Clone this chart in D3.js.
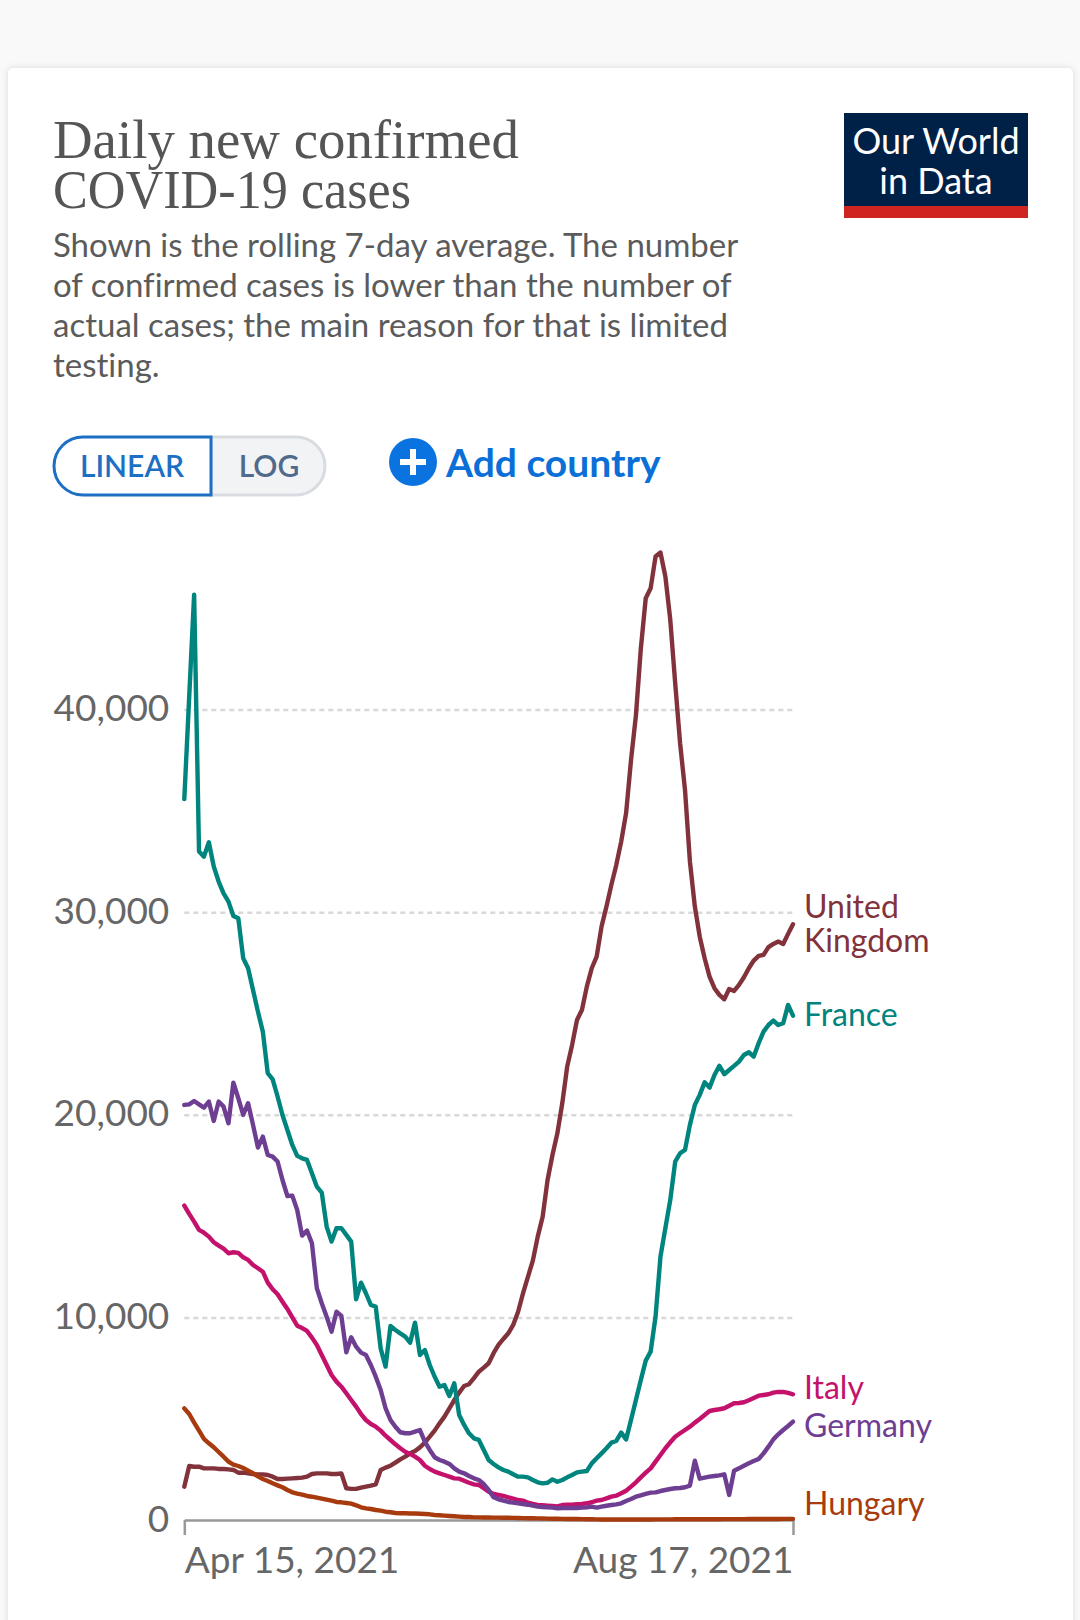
<!DOCTYPE html>
<html>
<head>
<meta charset="utf-8">
<script src="https://cdn.jsdelivr.net/npm/d3@7"></script>
<style>
  html, body { margin: 0; padding: 0; background: #f9f9f9; }
  svg { display: block; font-family: Lato, sans-serif; }
  .card { fill: #fff; filter: drop-shadow(0 0 3px rgba(0, 0, 0, 0.13)); }
  .title { font-family: "Liberation Serif", serif; font-size: 55px; fill: #555; }
  .subtitle { font-size: 33px; fill: #5b5b5b; font-variant-ligatures: none; }
  .tick text { font-family: Lato, sans-serif; font-size: 37px; fill: #666; }
  .grid .tick line { stroke: #d8d8d8; stroke-width: 2.5; stroke-dasharray: 5 4; }
  .x-axis path, .x-axis line { stroke: #999; stroke-width: 2.5; fill: none; }
  .series { fill: none; stroke-width: 4.4; stroke-linejoin: round; stroke-linecap: round; }
  .end-label { font-size: 32px; }
</style>
</head>
<body>
<svg width="1080" height="1620"></svg>
<script>
const startDate = new Date(Date.UTC(2021, 3, 15))
const endDate = new Date(Date.UTC(2021, 7, 17))

const yTicks = [0, 10000, 20000, 30000, 40000]

const unitedKingdom = [
  1645, 2665, 2630, 2630, 2550, 2550, 2550, 2520, 2520, 2500,
  2470, 2335, 2335, 2300, 2270, 2250, 2250, 2220, 2140, 2025,
  2025, 2040, 2055, 2075, 2090, 2140, 2270, 2300, 2300, 2300,
  2270, 2270, 2300, 1565, 1535, 1535, 1600, 1645, 1695, 1760,
  2470, 2585, 2680, 2830, 2995, 3125, 3290, 3405, 3585, 3815,
  4110, 4410, 4770, 5100, 5510, 5920, 6285, 6615, 6700, 7000,
  7320, 7520, 7735, 8230, 8640, 8935, 9215, 9625, 10280, 11190,
  12000, 12800, 13985, 14970, 16780, 18015, 19085, 20570, 22375, 23445,
  24680, 25170, 26325, 27230, 27800, 29290, 30275, 31345, 32330, 33480,
  34880, 37500, 39700, 43000, 45490, 45985, 47550, 47750, 46565, 44425,
  41300, 38335, 36030, 32500, 30280, 28790, 27725, 26820, 26245, 25915,
  25700, 26210, 26110, 26410, 26785, 27230, 27610, 27840, 27890, 28270,
  28430, 28545, 28430, 28925, 29400
]

const france = [
  35575, 40640, 45660, 32990, 32740, 33450, 32250, 31510, 30930, 30520,
  29810, 29700, 27725, 27230, 26160, 25090, 24100, 22050, 21750, 20900,
  19990, 19250, 18510, 17970, 17850, 17770, 17110, 16450, 16160, 14480,
  13740, 14400, 14400, 14070, 13740, 10890, 11710, 11190, 10610, 10530,
  8470, 7570, 9575, 9380, 9210, 9050, 8750, 9740, 8145, 8390,
  7650, 7070, 6580, 6660, 6120, 6750, 5180, 4690, 4280, 4030,
  3950, 3455, 2960, 2765, 2600, 2470, 2385, 2255, 2140, 2140,
  2105, 1975, 1860, 1810, 1840, 2005, 1890, 1975, 2105, 2220,
  2350, 2385, 2420, 2795, 3045, 3290, 3540, 3815, 3900, 4310,
  3980, 4935, 5920, 6910, 7865, 8310, 10035, 13000, 14400, 15795,
  17685, 18100, 18265, 19500, 20485, 20980, 21600, 21340, 21965, 22410,
  22000, 22210, 22410, 22620, 22950, 23085, 22870, 23530, 24100, 24430,
  24645, 24430, 24515, 25420, 24890
]

const italy = [
  15515, 15105, 14725, 14315, 14180, 13985, 13710, 13540, 13395, 13165,
  13215, 13180, 12965, 12835, 12585, 12425, 12255, 11715, 11385, 11140,
  10775, 10415, 10005, 9590, 9475, 9330, 9000, 8640, 8145, 7650,
  7155, 6830, 6580, 6255, 5925, 5595, 5230, 4935, 4740, 4605,
  4410, 4160, 3950, 3735, 3540, 3370, 3260, 3125, 2960, 2680,
  2515, 2385, 2305, 2220, 2140, 2055, 2040, 1940, 1840, 1760,
  1728, 1565, 1400, 1285, 1235, 1185, 1120, 1053, 987, 955,
  855, 790, 740, 725, 705, 690, 675, 740, 755, 755,
  775, 790, 825, 875, 955, 987, 1070, 1150, 1200, 1320,
  1447, 1645, 1860, 2105, 2335, 2550, 2880, 3210, 3540, 3835,
  4110, 4280, 4440, 4605, 4805, 4985, 5185, 5380, 5430, 5465,
  5515, 5640, 5760, 5775, 5810, 5910, 6020, 6135, 6170, 6205,
  6285, 6320, 6320, 6270, 6205
]

const germany = [
  20485, 20515, 20680, 20515, 20350, 20650, 19695, 20650, 20400, 19580,
  21585, 20815, 19990, 20570, 19500, 18380, 18920, 18015, 17935, 17690,
  16780, 15990, 16010, 15300, 14035, 14280, 13655, 11435, 10695, 10035,
  9295, 10280, 10070, 8280, 9020, 8555, 8260, 8145, 7650, 7075,
  6415, 5515, 4935, 4605, 4330, 4280, 4280, 4360, 4440, 3865,
  3455, 3095, 2960, 2880, 2765, 2550, 2385, 2305, 2170, 2055,
  1975, 1775, 1480, 1120, 1020, 955, 890, 855, 825, 790,
  755, 705, 660, 640, 625, 610, 575, 590, 590, 590,
  590, 610, 625, 660, 610, 660, 705, 740, 770, 825,
  940, 1035, 1150, 1220, 1285, 1350, 1365, 1430, 1480, 1530,
  1565, 1580, 1615, 1695, 2930, 2040, 2090, 2140, 2170, 2205,
  2255, 1235, 2435, 2550, 2680, 2800, 2910, 3010, 3290, 3620,
  3980, 4230, 4440, 4640, 4855
]

const hungary = [
  5510, 5230, 4805, 4410, 4000, 3785, 3590, 3355, 3125, 2880,
  2730, 2665, 2565, 2435, 2305, 2155, 2025, 1925, 1810, 1710,
  1615, 1480, 1365, 1300, 1250, 1185, 1150, 1100, 1053, 1003,
  955, 890, 873, 840, 805, 725, 625, 575, 543, 494,
  460, 410, 380, 345, 330, 330, 320, 320, 311, 296,
  281, 247, 232, 214, 197, 183, 165, 148, 148, 132,
  130, 125, 120, 118, 115, 113, 110, 105, 100, 95,
  90, 85, 80, 75, 70, 65, 60, 55, 52, 50,
  48, 45, 40, 35, 30, 28, 27, 26, 25, 25,
  25, 25, 26, 27, 28, 28, 30, 30, 32, 32,
  34, 34, 35, 35, 36, 36, 38, 38, 40, 40,
  42, 42, 44, 44, 45, 46, 48, 48, 50, 50,
  52, 52, 54, 55, 56
]

const seriesNames = ["United Kingdom", "France", "Italy", "Germany", "Hungary"]
const seriesValues = [unitedKingdom, france, italy, germany, hungary]

const colorScale = d3.scaleOrdinal()
  .domain(seriesNames)
  .range(["#82323b", "#00847e", "#c4126c", "#6d3e91", "#a83b0e"])

const titleLines = ["Daily new confirmed", "COVID-19 cases"]
const subtitleLines = [
  "Shown is the rolling 7-day average. The number",
  "of confirmed cases is lower than the number of",
  "actual cases; the main reason for that is limited",
  "testing."
]

const svg = d3.select("svg")

svg.append("rect")
  .attr("class", "card")
  .attr("x", 8)
  .attr("y", 68)
  .attr("width", 1065)
  .attr("height", 1600)
  .attr("rx", 5)

// header
const titleWidths = [466, 358]
svg.selectAll("text.title")
  .data(titleLines)
  .enter()
  .append("text")
  .attr("class", "title")
  .attr("x", 53)
  .attr("y", (d, i) => { return 158 + i * 50 })
  .attr("textLength", (d, i) => { return titleWidths[i] })
  .attr("lengthAdjust", "spacingAndGlyphs")
  .text(d => d)

svg.selectAll("text.subtitle")
  .data(subtitleLines)
  .enter()
  .append("text")
  .attr("class", "subtitle")
  .attr("x", 53)
  .attr("y", (d, i) => { return 257 + i * 40 })
  .text(d => d)

// logo
svg.append("rect").attr("x", 844).attr("y", 113).attr("width", 184).attr("height", 105).attr("fill", "#002147")
svg.append("rect").attr("x", 844).attr("y", 206).attr("width", 184).attr("height", 12).attr("fill", "#ce261e")
svg.selectAll("text.logo")
  .data(["Our World", "in Data"])
  .enter()
  .append("text")
  .attr("class", "logo")
  .attr("x", 936)
  .attr("y", (d, i) => { return 154 + i * 40 })
  .attr("text-anchor", "middle")
  .attr("font-size", 36)
  .attr("fill", "#fff")
  .text(d => d)

// linear / log toggle
svg.append("path")
  .attr("d", "M211,437 H296 a29,29 0 0 1 0,58 H211 Z")
  .attr("fill", "#f2f3f5")
  .attr("stroke", "#d8dbe0")
  .attr("stroke-width", 3)
svg.append("path")
  .attr("d", "M211,437 H83 a29,29 0 0 0 0,58 H211 Z")
  .attr("fill", "#fff")
  .attr("stroke", "#1d6fc4")
  .attr("stroke-width", 3)
svg.append("text")
  .attr("x", 132).attr("y", 477)
  .attr("text-anchor", "middle")
  .attr("font-size", 30).attr("font-weight", 600)
  .attr("fill", "#1d6fc4")
  .text("LINEAR")
svg.append("text")
  .attr("x", 269).attr("y", 477)
  .attr("text-anchor", "middle")
  .attr("font-size", 30).attr("font-weight", 600)
  .attr("fill", "#4f6a8c")
  .text("LOG")

// add country
svg.append("circle").attr("cx", 413).attr("cy", 462).attr("r", 24).attr("fill", "#0a73e0")
svg.append("path")
  .attr("d", "M413,449 V475 M400,462 H426")
  .attr("stroke", "#fff")
  .attr("stroke-width", 6)
svg.append("text")
  .attr("x", 446).attr("y", 477)
  .attr("font-size", 39).attr("font-weight", 700)
  .attr("fill", "#0a6fd6")
  .text("Add country")

// chart
const x = d3.scaleUtc()
  .domain([startDate, endDate])
  .range([184.3, 793])

const y = d3.scaleLinear()
  .domain([0, 40000])
  .range([1520, 709.5])

const grid = svg.append("g")
  .attr("class", "grid")
  .attr("transform", "translate(184.3, 0)")
  .call(d3.axisLeft(y)
    .tickValues(yTicks)
    .tickSize(-(793 - 184.3))
    .tickPadding(15)
    .tickFormat(d3.format(",")))

grid.select(".domain").remove()
grid.selectAll(".tick").filter(d => d === 0).select("line").remove()
grid.selectAll(".tick text").attr("dy", "0.3em")

const xAxis = svg.append("g")
  .attr("class", "x-axis")
  .attr("transform", "translate(0, 1520)")
  .call(d3.axisBottom(x)
    .tickValues([startDate, endDate])
    .tickSizeInner(15)
    .tickSizeOuter(0)
    .tickPadding(12)
    .tickFormat(d3.utcFormat("%b %d, %Y")))

xAxis.selectAll(".tick text")
  .attr("text-anchor", (d, i) => { return i === 0 ? "start" : "end" })

const lineGenerator = d3.line()
  .x((d, i) => { return x(d3.utcDay.offset(startDate, i)) })
  .y(d => y(d))

svg.selectAll("path.series")
  .data(seriesValues)
  .enter()
  .append("path")
  .attr("class", "series")
  .attr("stroke", (d, i) => { return colorScale(seriesNames[i]) })
  .attr("d", d => lineGenerator(d))

// end labels, nudged by hand so they do not collide
const labelRows = [
  { name: "United Kingdom", lines: ["United", "Kingdom"], top: 918 },
  { name: "France", lines: ["France"], top: 1026 },
  { name: "Italy", lines: ["Italy"], top: 1399 },
  { name: "Germany", lines: ["Germany"], top: 1437 },
  { name: "Hungary", lines: ["Hungary"], top: 1515 }
]

const labels = svg.selectAll("text.end-label")
  .data(labelRows)
  .enter()
  .append("text")
  .attr("class", "end-label")
  .attr("fill", d => colorScale(d.name))

labels.selectAll("tspan")
  .data(d => d.lines.map((line, i) => ({ line, y: d.top + i * 34 })))
  .enter()
  .append("tspan")
  .attr("x", 804)
  .attr("y", d => d.y)
  .text(d => d.line)
</script>
</body>
</html>
